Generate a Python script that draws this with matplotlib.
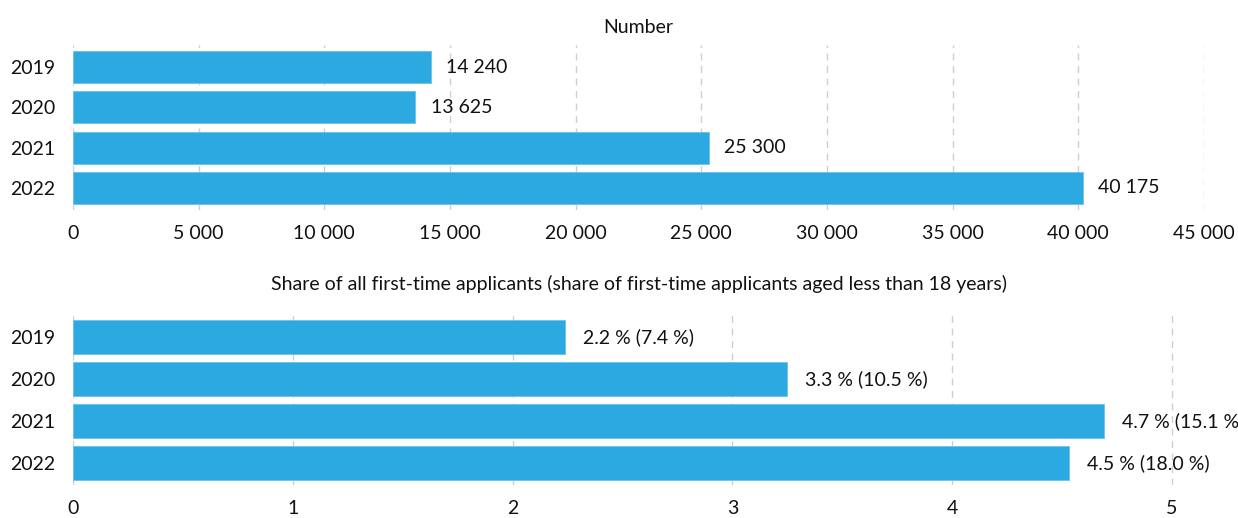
import matplotlib
matplotlib.use("Agg")
import matplotlib.pyplot as plt
from matplotlib.ticker import FuncFormatter

years = ["2019", "2020", "2021", "2022"]
numbers = [14240, 13625, 25300, 40175]
number_labels = ["14 240", "13 625", "25 300", "40 175"]
shares = [2.24, 3.25, 4.69, 4.53]
share_labels = ["2.2 % (7.4 %)", "3.3 % (10.5 %)", "4.7 % (15.1 %)", "4.5 % (18.0 %)"]
top_ticks = [0, 5000, 10000, 15000, 20000, 25000, 30000, 35000, 40000, 45000]
bottom_ticks = [0, 1, 2, 3, 4, 5]

plt.rcParams['font.family'] = ['Lato', 'DejaVu Sans']
BAR = '#2ca9e1'
GRID = '#cfcfcf'
FS = 14

fig = plt.figure(figsize=(12.38, 5.18), dpi=100)
W, H = 1238, 518

def make_axes(x0, x1, y0, y1):
    return fig.add_axes([x0 / W, 1 - y1 / H, (x1 - x0) / W, (y1 - y0) / H])

def style(ax):
    for s in ax.spines.values():
        s.set_visible(False)
    ax.tick_params(axis='both', length=0, labelsize=FS, colors='#111111')
    ax.tick_params(axis='x', pad=11)
    ax.tick_params(axis='y', pad=13)
    ax.grid(axis='x', color=GRID, linestyle=(0, (5, 4)), linewidth=1)
    ax.set_axisbelow(True)

# Top panel
ax1 = make_axes(73, 1204, 45, 210)
y = list(range(len(years)))
ax1.barh(y, numbers, height=0.8, color=BAR, edgecolor='#6cc3ea', linewidth=0.6)
ax1.set_xlim(0, 45000)
ax1.set_ylim(3.55, -0.55)
ax1.set_yticks(y, years)
ax1.set_xticks(top_ticks)
ax1.xaxis.set_major_formatter(FuncFormatter(lambda v, p: f"{int(v):,}".replace(",", " ")))
style(ax1)
for yi, v, lab in zip(y, numbers, number_labels):
    ax1.annotate(lab, (v, yi), xytext=(11, 0), textcoords='offset points',
                 va='center', ha='left', fontsize=FS, color='#111111')
ax1.set_title("Number", fontsize=FS, pad=9, color='#111111')

# Bottom panel
ax2 = make_axes(73, 1205, 315, 485)
ax2.barh(y, shares, height=0.8, color=BAR, edgecolor='#6cc3ea', linewidth=0.6)
ax2.set_xlim(0, 5.15)
ax2.set_ylim(3.52, -0.53)
ax2.set_yticks(y, years)
ax2.set_xticks(bottom_ticks)
style(ax2)
for yi, v, lab in zip(y, shares, share_labels):
    ax2.annotate(lab, (v, yi), xytext=(13, 0), textcoords='offset points',
                 va='center', ha='left', fontsize=FS, color='#111111',
                 annotation_clip=False)
ax2.set_title("Share of all first-time applicants (share of first-time applicants aged less than 18 years)",
              fontsize=FS, pad=18, color='#111111')

fig.savefig("out.png", dpi=100)
